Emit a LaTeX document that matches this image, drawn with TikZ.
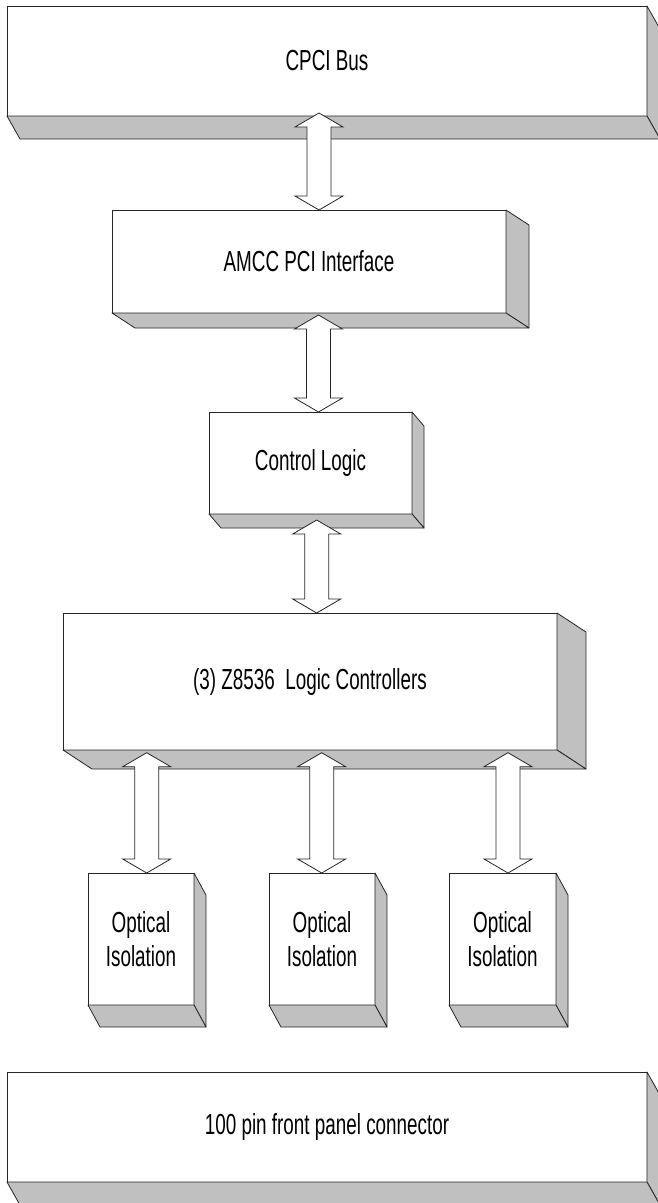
\documentclass[tikz,border=0pt]{standalone}
\usepackage{fontspec}
\setmainfont[FakeStretch=0.65]{Liberation Sans}
\usetikzlibrary{calc}
\definecolor{sidegray}{RGB}{192,192,192}
% gray depth faces of a box: node name, x offset, y offset
\def\dep#1#2#3{\filldraw[side] (#1.north east) -- ++(#2,#3) -- ([shift={(#2,#3)}]#1.south east) -- (#1.south east) -- cycle;
\filldraw[side] (#1.south west) -- (#1.south east) -- ([shift={(#2,#3)}]#1.south east) -- ([shift={(#2,#3)}]#1.south west) -- cycle;}
% hollow double arrow between two coordinates on one vertical
\def\bus#1#2{\draw[busline] (#1) -- ($(#1)+(24,14)$) -- ($(#1)+(12,14)$) -- ($(#2)+(12,-14)$) -- ($(#2)+(24,-14)$) -- (#2) -- ($(#2)+(-24,-14)$) -- ($(#2)+(-12,-14)$) -- ($(#1)+(-12,14)$) -- ($(#1)+(-24,14)$) -- cycle;}

\begin{document}
\begin{tikzpicture}[x=1pt,y=-1pt,every node/.style={align=center,font=\fontsize{29}{34}\selectfont},
box/.style={draw=black!85,fill=white,line width=0.8pt,inner sep=0pt,outer sep=0pt},
side/.style={fill=sidegray,draw=black!85,line width=0.8pt,line join=round},
busline/.style={fill=white,draw=black!85,line width=0.8pt}
]
\useasboundingbox (0,0) rectangle (658,1203);
\clip (0,0) rectangle (658,1203);

\node[box,minimum width=640,minimum height=110] (cpci) at (327,61) {CPCI Bus};
\dep{cpci}{13}{23}
\node[box,minimum width=394,minimum height=103] (amcc) at (309,261.5) {AMCC PCI Interface};
\dep{amcc}{23}{15}
\node[box,minimum width=203,minimum height=102] (ctrl) at (310.5,463) {Control Logic};
\dep{ctrl}{12}{14}
\node[box,minimum width=494,minimum height=137] (z8536) at (310,681.5) {(3) Z8536\ \ Logic Controllers};
\dep{z8536}{29}{19}
\node[box,minimum width=106,minimum height=132] (opto1) at (141,939) {Optical\\Isolation};
\dep{opto1}{12}{22}
\node[box,minimum width=106,minimum height=132] (opto2) at (322,939) {Optical\\Isolation};
\dep{opto2}{12}{22}
\node[box,minimum width=107,minimum height=132] (opto3) at (502.5,939) {Optical\\Isolation};
\dep{opto3}{12}{22}
\node[box,minimum width=640,minimum height=110] (front) at (327,1127) {100 pin front panel connector};
\dep{front}{13}{23}

% arrows
\coordinate (b1) at (319,113);
\coordinate (b2) at (318.5,315);
\coordinate (b3) at (316.7,520);
\coordinate (c1) at (146.7,752.7);
\coordinate (c2) at (321.7,752.7);
\coordinate (c3) at (508,752.7);
\bus{b1}{b1 |- amcc.north}
\bus{b2}{b2 |- ctrl.north}
\bus{b3}{b3 |- z8536.north}
\bus{c1}{c1 |- opto1.north}
\bus{c2}{c2 |- opto2.north}
\bus{c3}{c3 |- opto3.north}
\end{tikzpicture}
\end{document}
